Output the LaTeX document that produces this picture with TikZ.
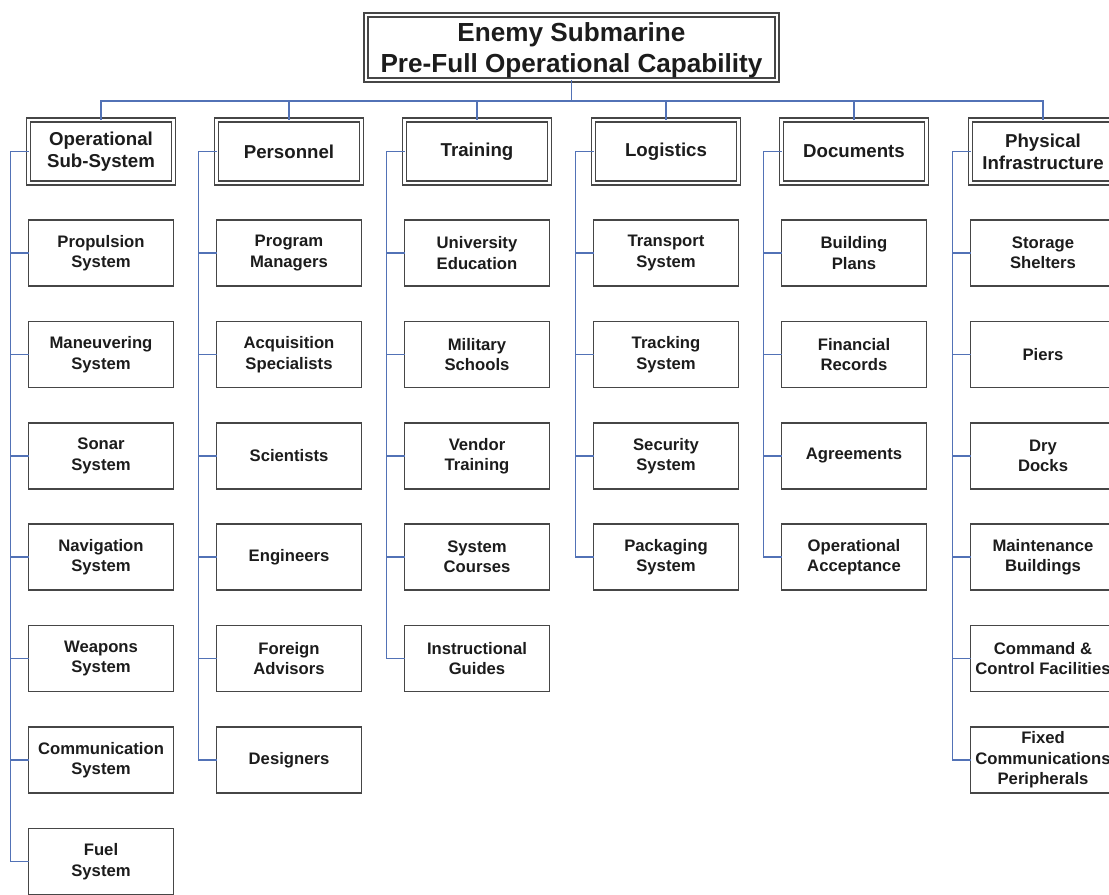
\documentclass[tikz,border=0pt]{standalone}
\usepackage{fontspec}
\setmainfont{Liberation Sans}
\definecolor{linkblue}{RGB}{82,114,182}
\definecolor{boxgray}{RGB}{70,70,70}
\definecolor{inkdark}{RGB}{28,28,28}
\tikzset{
	headbox/.style={draw=boxgray, double=white, line width=1pt, double distance=2pt, fill=white, inner sep=0pt, outer sep=0pt, minimum width=108.75pt, minimum height=47.25pt, align=center, text=inkdark, font=\fontsize{14}{16.5}\selectfont\bfseries},
	itembox/.style={draw=boxgray, line width=1.2pt, fill=white, inner sep=0pt, outer sep=0pt, minimum width=108.75pt, minimum height=49.5pt, align=center, text=inkdark, font=\fontsize{12.5}{15.3}\selectfont\bfseries},
	link/.style={draw=linkblue, line width=1.2pt},
}
\newcommand{\headBox}[5][]{
	\path (#2,#3) node[headbox, #1](#4){#5};
}
\newcommand{\itemBox}[5][]{
	\path (#2,#3) node[itembox, #1](#4){#5};
}
\newcommand{\spineAt}[2]{
	\coordinate (#1) at ([xshift=-13.5pt]#2.west);
	\draw[link] (#2.west) -- (#1);
}
\newcommand{\edgeElbow}[3][]{
	\draw[link, #1] (#2) -| (#3);
}

\begin{document}
\begin{tikzpicture}[x=0.75pt, y=-0.75pt]
	\path[use as bounding box, fill=white] (0,0) rectangle (1109,895);

	% top of the tree
	\headBox[minimum width=308.25pt, minimum height=48.75pt, text depth=0pt, font=\fontsize{19.6}{23}\selectfont\bfseries]{571.5}{47.5}{top}{Enemy Submarine\\Pre-Full Operational Capability};
	\coordinate (bus) at (571.5,101);
	\draw[link] (top.south) -- (bus);

	% headers
	\headBox{101}{151.5}{op}{Operational\\Sub-System};
	\headBox{289}{151.5}{pers}{Personnel};
	\headBox{477}{151.5}{train}{Training};
	\headBox{666}{151.5}{logi}{Logistics};
	\headBox{854}{151.5}{docs}{Documents};
	\headBox{1043}{151.5}{infra}{Physical\\Infrastructure};

	\edgeElbow{bus}{op.north};
	\edgeElbow{bus}{pers.north};
	\edgeElbow{bus}{train.north};
	\edgeElbow{bus}{logi.north};
	\edgeElbow{bus}{docs.north};
	\edgeElbow{bus}{infra.north};

	\spineAt{sop}{op};
	\spineAt{spers}{pers};
	\spineAt{strain}{train};
	\spineAt{slogi}{logi};
	\spineAt{sdocs}{docs};
	\spineAt{sinfra}{infra};

	% operational sub-system
	\itemBox{101}{253}{op1}{Propulsion\\System};
	\itemBox{101}{354.5}{op2}{Maneuvering\\System};
	\itemBox{101}{456}{op3}{Sonar\\System};
	\itemBox{101}{557}{op4}{Navigation\\System};
	\itemBox{101}{658.5}{op5}{Weapons\\System};
	\itemBox{101}{760}{op6}{Communication\\System};
	\itemBox{101}{861.5}{op7}{Fuel\\System};
	\edgeElbow{op1.west}{sop};
	\edgeElbow{op2.west}{sop};
	\edgeElbow{op3.west}{sop};
	\edgeElbow{op4.west}{sop};
	\edgeElbow{op5.west}{sop};
	\edgeElbow{op6.west}{sop};
	\edgeElbow{op7.west}{sop};

	% personnel
	\itemBox{289}{253}{pers1}{Program\\Managers};
	\itemBox{289}{354.5}{pers2}{Acquisition\\Specialists};
	\itemBox{289}{456}{pers3}{Scientists};
	\itemBox{289}{557}{pers4}{Engineers};
	\itemBox{289}{658.5}{pers5}{Foreign\\Advisors};
	\itemBox{289}{760}{pers6}{Designers};
	\edgeElbow{pers1.west}{spers};
	\edgeElbow{pers2.west}{spers};
	\edgeElbow{pers3.west}{spers};
	\edgeElbow{pers4.west}{spers};
	\edgeElbow{pers5.west}{spers};
	\edgeElbow{pers6.west}{spers};

	% training
	\itemBox{477}{253}{train1}{University\\Education};
	\itemBox{477}{354.5}{train2}{Military\\Schools};
	\itemBox{477}{456}{train3}{Vendor\\Training};
	\itemBox{477}{557}{train4}{System\\Courses};
	\itemBox{477}{658.5}{train5}{Instructional\\Guides};
	\edgeElbow{train1.west}{strain};
	\edgeElbow{train2.west}{strain};
	\edgeElbow{train3.west}{strain};
	\edgeElbow{train4.west}{strain};
	\edgeElbow{train5.west}{strain};

	% logistics
	\itemBox{666}{253}{logi1}{Transport\\System};
	\itemBox{666}{354.5}{logi2}{Tracking\\System};
	\itemBox{666}{456}{logi3}{Security\\System};
	\itemBox{666}{557}{logi4}{Packaging\\System};
	\edgeElbow{logi1.west}{slogi};
	\edgeElbow{logi2.west}{slogi};
	\edgeElbow{logi3.west}{slogi};
	\edgeElbow{logi4.west}{slogi};

	% documents
	\itemBox{854}{253}{docs1}{Building\\Plans};
	\itemBox{854}{354.5}{docs2}{Financial\\Records};
	\itemBox{854}{456}{docs3}{Agreements};
	\itemBox{854}{557}{docs4}{Operational\\Acceptance};
	\edgeElbow{docs1.west}{sdocs};
	\edgeElbow{docs2.west}{sdocs};
	\edgeElbow{docs3.west}{sdocs};
	\edgeElbow{docs4.west}{sdocs};

	% physical infrastructure
	\itemBox{1043}{253}{infra1}{Storage\\Shelters};
	\itemBox{1043}{354.5}{infra2}{Piers};
	\itemBox{1043}{456}{infra3}{Dry\\Docks};
	\itemBox{1043}{557}{infra4}{Maintenance\\Buildings};
	\itemBox{1043}{658.5}{infra5}{Command \&\\Control Facilities};
	\itemBox{1043}{760}{infra6}{Fixed\\Communications\\Peripherals};
	\edgeElbow{infra1.west}{sinfra};
	\edgeElbow{infra2.west}{sinfra};
	\edgeElbow{infra3.west}{sinfra};
	\edgeElbow{infra4.west}{sinfra};
	\edgeElbow{infra5.west}{sinfra};
	\edgeElbow{infra6.west}{sinfra};
\end{tikzpicture}
\end{document}
